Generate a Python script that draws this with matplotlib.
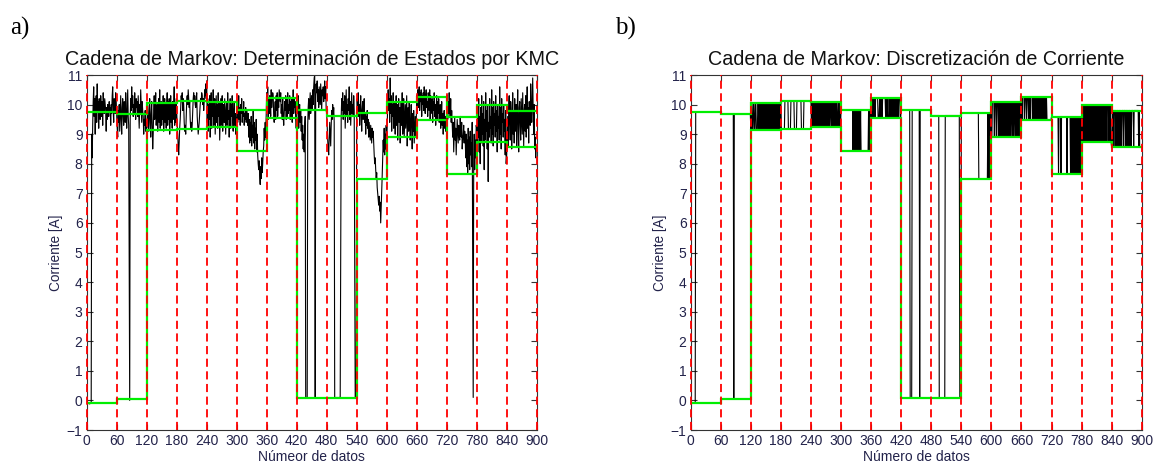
import numpy as np
import matplotlib
matplotlib.use("Agg")
import matplotlib.pyplot as plt

# ---------------- data ----------------
window = 60
n_windows = 15

# KMC state levels per 60-sample window (high / low)
level_high = [9.75, 9.67, 10.04, 10.11, 10.08, 9.82, 10.22, 9.83, 9.63,
              9.71, 10.08, 10.25, 9.59, 9.98, 9.80]
level_low = [-0.08, 0.05, 9.14, 9.18, 9.24, 8.42, 9.55, 0.07, 0.07,
             7.47, 8.89, 9.49, 7.64, 8.72, 8.55]

# measured current, one list per window
w00 = [-0.1, -0.1, -0.12, -0.1, -0.08, -0.1, -0.12, -0.1, -0.1, -0.08,
       9.0, 8.2, 9.3, 10.1, 10.6, 9.6, 10.2, 9.0, 9.9, 10.3, 9.4, 10.7, 9.8, 10.1, 9.2,
       10.2, 9.9, 9.5, 10.3, 10.0, 9.6, 10.1, 9.3, 10.4, 9.9, 9.7, 10.2, 10.0, 9.8, 9.1,
       9.9, 9.5, 10.0, 9.9, 9.6, 10.1, 9.8, 9.9, 9.3, 10.0, 9.7, 10.3, 10.6, 9.8, 9.4,
       10.2, 9.9, 9.7, 10.4, 10.1]
w01 = [9.6, 9.2, 8.9, 9.8, 9.4, 10.0, 9.1, 9.7, 10.3, 9.5, 9.0, 9.9, 10.2, 9.6, 9.3,
       10.1, 9.8, 9.4, 10.4, 9.7, 9.2, 9.9, 10.5, 9.6, 9.3, 4.9, 0.0, 9.5, 10.2, 9.8,
       10.6, 9.9, 10.3, 9.6, 10.0, 9.7, 10.4, 9.8, 9.5, 10.2, 9.9, 10.1, 9.6, 10.3, 9.8,
       9.2, 10.0, 9.7, 10.5, 9.9, 9.4, 10.1, 9.8, 9.6, 9.0, 9.5, 9.3, 9.8, 9.1, 9.4]
w02 = [9.2, 9.6, 10.0, 9.3, 9.1, 9.8, 10.2, 9.4, 8.9, 9.7, 10.1, 9.2, 8.5, 9.0, 9.8,
       10.3, 9.5, 9.9, 10.4, 9.3, 9.7, 10.0, 9.1, 9.8, 10.2, 9.4, 10.5, 9.2, 9.9, 10.1,
       9.3, 10.0, 9.5, 10.3, 9.1, 9.8, 10.2, 9.4, 10.0, 9.2, 9.9, 10.4, 9.3, 10.1, 9.5,
       10.2, 9.0, 9.8, 10.3, 9.4, 10.0, 9.2, 10.1, 9.5, 9.9, 10.6, 9.3, 10.0, 9.4, 10.2]
w03 = [9.7, 9.3, 9.0, 8.6, 8.3, 8.8, 9.2, 9.5, 9.9, 10.3, 10.1, 10.4, 9.8, 10.2, 10.0,
       9.4, 9.1, 9.3, 9.0, 9.6, 10.1, 10.3, 10.0, 10.5, 10.2, 9.9, 10.1, 9.5, 9.2, 9.4,
       9.1, 9.3, 9.8, 10.2, 10.4, 10.1, 10.3, 10.0, 9.9, 10.2, 10.4, 9.6, 9.3, 9.0, 9.2,
       9.4, 9.7, 10.0, 10.2, 10.1, 10.4, 10.3, 10.0, 10.2, 9.8, 10.1, 10.5, 10.3, 10.7, 10.2]
w04 = [10.8, 9.4, 10.2, 9.1, 10.0, 9.5, 10.3, 8.9, 9.8, 10.4, 9.2, 10.1, 9.6, 10.5, 9.3,
       9.9, 10.2, 9.0, 9.7, 10.3, 9.4, 10.0, 9.2, 10.4, 9.6, 10.1, 8.8, 9.5, 10.2, 9.3,
       9.9, 10.3, 9.1, 9.8, 10.0, 9.4, 10.2, 9.6, 9.0, 9.9, 10.1, 9.3, 10.4, 9.5, 9.8,
       8.9, 9.7, 10.2, 9.2, 10.0, 9.6, 10.3, 9.4, 9.1, 9.8, 10.1, 9.3, 9.7, 9.0, 9.5]
w05 = [9.6, 10.1, 9.4, 9.8, 10.3, 9.5, 9.9, 9.3, 10.0, 9.7, 10.2, 9.4, 9.8, 9.6, 10.1,
       9.3, 9.7, 9.5, 9.9, 9.4, 9.8, 9.6, 9.3, 9.7,
       8.9, 9.5, 8.7, 9.4, 8.8, 9.6, 8.6, 9.3, 8.9, 9.8, 8.7, 9.4, 8.5, 9.2, 8.8, 9.5,
       8.4, 9.0,
       8.3, 8.0, 7.8, 8.1, 7.6, 7.3, 7.9, 7.5, 8.2, 7.7, 8.0, 8.4,
       8.6, 9.2, 8.8, 9.4, 8.9, 9.6]
w06 = [10.4, 9.8, 10.6, 9.5, 10.2, 9.7, 10.3, 10.0, 9.6, 10.5, 9.9, 10.2, 10.4, 10.3, 9.6,
       9.4, 9.7, 10.1, 9.5, 10.3, 9.8, 10.4, 9.6, 10.2, 9.9, 10.5, 10.3, 10.1, 10.4, 9.7,
       10.0, 9.5, 10.2, 9.6, 9.3, 9.7, 10.1, 9.8, 10.3, 9.5, 10.2, 9.6, 10.4, 9.7, 10.0,
       9.8, 10.3, 9.5, 10.1, 9.6, 10.2, 9.4, 9.8, 10.5, 9.7, 10.2, 9.9, 10.1, 9.5, 9.2]
w07 = [9.5, 10.1, 9.7, 10.3, 9.2, 9.9, 10.0, 9.4, 9.8, 9.1, 9.6, 8.8, 9.3, 8.5, 9.0,
       8.4, 9.2, 9.6, 0.1, 0.08, 0.1, 0.12,
       9.3, 9.9, 10.2, 9.5, 10.0, 10.4, 9.7, 10.1, 10.3, 9.8, 10.5, 10.0, 10.6, 10.9, 11.0,
       0.1,
       10.2, 10.7, 10.4, 10.8, 10.1, 10.5, 9.9, 10.6, 10.3, 10.0, 10.7, 10.2, 9.8, 10.5,
       10.3, 10.6, 10.1, 10.4, 10.8, 10.2, 10.6, 9.8]
w08 = [9.7, 9.2, 8.8, 8.5, 8.3, 8.9, 9.4, 9.0, 8.6, 9.3, 9.8, 9.5, 10.0, 9.6, 9.9, 9.4,
       0.1, 0.07, 0.1, 0.08, 0.1, 0.1, 0.09, 0.1, 0.08, 0.1, 0.1, 0.09,
       5.05,
       9.6, 10.2, 9.8, 10.4, 9.5, 10.1, 9.7, 10.3, 9.2, 9.9, 10.5, 9.6, 10.0, 9.4, 10.2,
       9.8, 10.6, 9.5, 10.1, 9.3, 9.9, 10.4, 9.7, 10.0, 9.6, 10.3, 9.8,
       5.0, 0.1, 0.08, 0.1]
w09 = [9.5, 10.2, 9.8, 10.4, 9.6, 10.0, 9.3, 9.9, 10.3, 9.7, 9.1, 9.8, 10.1, 9.5, 9.9,
       10.2, 9.4, 9.7, 9.0, 9.6, 9.3, 9.8, 9.2, 9.5, 8.9, 9.4, 9.1, 8.8, 9.3, 9.0,
       8.7, 9.2, 8.9, 9.1, 8.7,
       8.3, 8.0, 8.2, 7.8, 7.5, 7.7, 7.2, 7.0, 6.8, 6.6, 6.9, 6.4, 6.7, 6.0, 6.5, 7.0,
       7.6, 8.2,
       8.8, 8.4, 9.2, 8.3, 9.0, 8.5, 9.3]
w10 = [8.6, 9.3, 10.0, 10.5, 9.8, 10.2, 9.4, 10.9, 9.7, 10.3, 9.1, 10.0, 9.6, 10.4, 9.2,
       9.9, 10.1, 9.0, 9.8, 10.3, 9.3, 10.0, 8.8, 9.7, 10.2, 9.4, 9.9, 8.7, 9.6, 10.1,
       9.3, 10.4, 9.0, 9.8, 10.2, 8.9, 9.5, 10.0, 9.2, 9.7, 10.3, 8.6, 9.4, 9.9, 9.1,
       10.1, 9.6, 8.8, 9.3, 10.0, 9.4, 8.5, 9.7, 9.1, 9.8, 8.7, 9.2, 9.6, 8.9, 9.3]
w11 = [10.3, 9.7, 10.5, 9.9, 10.2, 10.6, 9.8, 10.4, 10.1, 10.5, 9.6, 10.3, 10.0, 10.4, 9.8,
       10.6, 10.2, 9.7, 10.3, 10.5, 9.9, 10.1, 9.6, 10.4, 10.2, 9.8, 10.5, 9.5, 10.3, 10.0,
       9.7, 10.2, 9.4, 10.1, 9.8, 10.4, 9.6, 10.0, 9.3, 9.9, 10.3, 9.5, 10.1, 9.7, 10.2,
       9.4, 9.8, 10.0, 9.2, 9.6, 10.1, 9.3, 9.7, 9.0, 9.5, 9.8, 9.2, 9.6, 9.1, 9.4]
w12 = [9.8, 10.3, 9.5, 10.1, 9.7, 10.4, 9.9, 9.6, 10.2, 9.4, 9.8, 9.3,
       8.9, 9.4, 8.4, 9.0, 9.6, 8.8, 9.2, 8.3, 8.9, 9.5, 9.1, 8.7, 9.3, 9.0, 8.8, 9.6,
       9.2, 8.9, 9.4, 8.5, 8.8, 9.0, 9.3, 8.7, 9.1, 8.9,
       8.2, 9.0, 7.9, 8.8, 7.7, 9.2, 8.0, 8.9, 7.8, 9.1, 8.3, 8.7, 7.9, 9.4, 4.5, 0.1,
       8.1, 9.0, 7.8, 8.8, 8.2, 9.3]
w13 = [9.2, 8.5, 9.8, 8.9, 10.2, 8.4, 9.6, 8.0, 9.9, 8.7, 10.3, 9.0, 9.7, 8.6, 10.1,
       7.8, 9.5, 8.8, 10.4, 9.1, 9.8, 8.5, 10.0, 7.4, 9.4, 8.9, 10.2, 9.2, 9.6, 8.7,
       10.5, 9.0, 9.9, 8.6, 10.1, 9.3, 9.7, 8.9, 10.3, 9.1, 9.8, 8.4, 10.0, 9.2, 9.6,
       8.8, 10.6, 9.0, 9.9, 8.5, 10.2, 9.4, 9.7, 8.9, 10.0, 9.1, 9.5, 8.3, 9.8, 8.0]
w14 = [8.3, 9.0, 9.6, 8.6, 9.9, 10.3, 9.4, 8.8, 10.1, 9.7, 8.5, 9.3, 10.4, 9.0, 9.8,
       8.7, 10.2, 9.5, 9.1, 10.0, 8.6, 9.7, 10.5, 9.2, 8.4, 9.9, 10.1, 9.3, 8.8, 10.2,
       9.6, 9.0, 10.4, 9.4, 8.6, 9.8, 10.0, 9.1, 10.3, 8.9, 9.5, 10.6, 9.2, 9.9, 8.7,
       10.1, 9.6, 9.3, 10.7, 9.8, 9.4, 10.2, 10.9, 9.7, 9.0, 10.0, 8.5, 8.9, 8.2, 8.6]

segments = [w00, w01, w02, w03, w04, w05, w06, w07, w08, w09, w10, w11, w12, w13, w14]

title_a = "Cadena de Markov: Determinación de Estados por KMC"
title_b = "Cadena de Markov: Discretización de Corriente"
xlabel_a = "Númeor de datos"
xlabel_b = "Número de datos"
ylabel = "Corriente [A]"
xticks = list(range(0, 901, 60))
yticks = list(range(-1, 12))

# ---------------- derived ----------------
current = np.concatenate([np.asarray(s, float) for s in segments])
x = np.arange(len(current))
hi = np.asarray(level_high)
lo = np.asarray(level_low)
win_idx = np.minimum(x // window, n_windows - 1)
mid = (hi[win_idx] + lo[win_idx]) / 2
discrete = np.where(current >= mid, hi[win_idx], lo[win_idx])
edges = np.arange(0, window * n_windows + 1, window)

# ---------------- figure ----------------
W, H = 1155, 466
fig = plt.figure(figsize=(W / 100, H / 100), dpi=100)
font = "Liberation Sans"
tick_color = "#22224a"

def setup(ax, title, xlabel):
    ax.set_xlim(0, 900)
    ax.set_ylim(-1, 11)
    ax.set_xticks(xticks)
    ax.set_yticks(yticks)
    ax.tick_params(direction="in", top=True, right=True, length=4, width=0.8,
                   labelsize=10, labelcolor=tick_color, color="#333333", pad=3)
    for lab in ax.get_xticklabels() + ax.get_yticklabels():
        lab.set_fontfamily(font)
    for sp in ax.spines.values():
        sp.set_color("#333333")
        sp.set_linewidth(0.8)
    ax.set_title(title, fontsize=14.2, family=font, color="#111111", pad=7)
    ax.set_xlabel(xlabel, fontsize=10, family=font, color=tick_color, labelpad=1)
    ax.set_ylabel(ylabel, fontsize=9.8, family=font, color=tick_color, labelpad=3)

def overlays(ax):
    ax.stairs(hi, edges, baseline=None, color="#00ee00", lw=1.6, zorder=3)
    ax.stairs(lo, edges, baseline=None, color="#00ee00", lw=1.6, zorder=3)
    for e in edges:
        ax.axvline(e, color="#ff0000", lw=1.3, ls=(0, (4.5, 2.5)), zorder=4, clip_on=False)

ax1 = fig.add_axes([86.7 / W, 36 / H, 450 / W, 355 / H])
ax1.plot(x, current, color="black", lw=0.8, zorder=2)
overlays(ax1)
setup(ax1, title_a, xlabel_a)

ax2 = fig.add_axes([690.7 / W, 36 / H, 451 / W, 355 / H])
ax2.plot(x, discrete, color="black", lw=0.8, zorder=2)
overlays(ax2)
setup(ax2, title_b, xlabel_b)

fig.text(10 / W, 1 - 35 / H, "a)", family="Liberation Serif", fontsize=18, color="black")
fig.text(615 / W, 1 - 35 / H, "b)", family="Liberation Serif", fontsize=18, color="black")

fig.savefig("out.png", dpi=100)
